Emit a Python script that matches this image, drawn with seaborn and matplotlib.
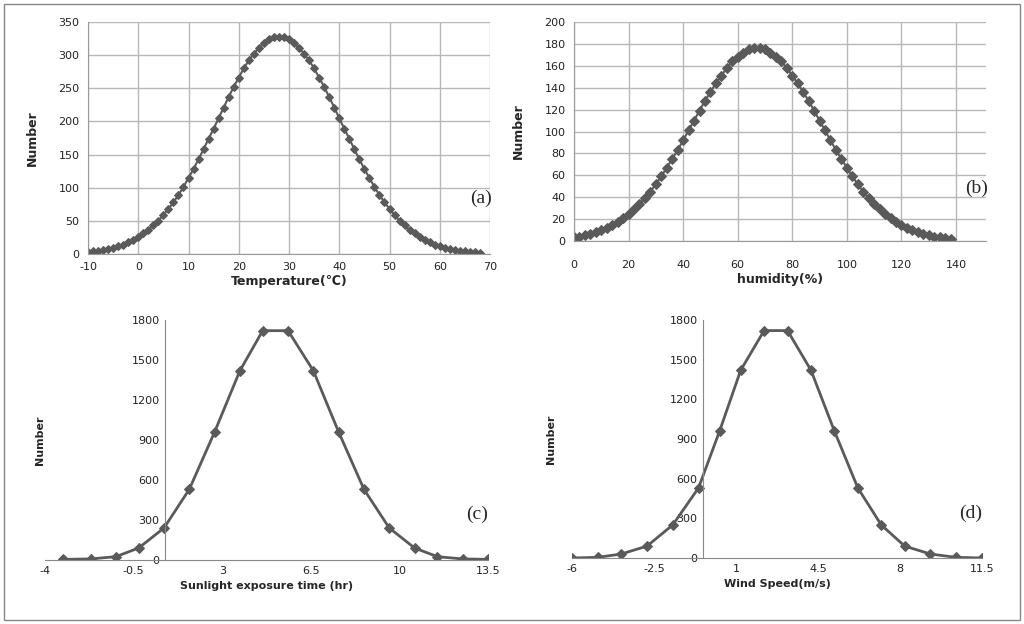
import matplotlib
matplotlib.use("Agg")
import matplotlib.pyplot as plt
import seaborn as sns
from matplotlib.patches import Rectangle

temp_x = list(range(-10, 69))
temp_y = [3,3.8,4.9,6.1,7.7,9.6,12,14,18,21,26,31,36,43,50,59,68,78,89,101,115,128,143,158,174,189,205,221,237,252,266,280,292,302,311,318,324,327,
          328,
          327,324,318,311,302,292,280,266,252,237,221,205,189,174,158,143,128,115,101,89,78,68,59,50,43,36,31,26,21,18,14,12,9.6,7.7,6.1,4.9,3.8,3.0,2.3,1.8]
hum_x = list(range(0, 139, 2))
hum_y = [3.2,4.1,5.2,6.4,7.9,9.7,11.9,14.4,17.3,20.6,24.5,29,34,39,45,52,59,67,75,83,92,101,110,119,128,136,144,151,158,164,168,172,175,176,
         176,175,172,168,164,158,151,144,136,128,119,110,101,92,83,75,67,59,52,45,39,34,29,24.5,20.6,17.3,14.4,11.9,9.7,7.9,6.4,5.2,4.1,3.2,2.5,1.9]
sun_x = [-3.3,-2.2,-1.2,-0.3,0.7,1.7,2.7,3.7,4.6,5.6,6.6,7.6,8.6,9.6,10.6,11.5,12.5,13.5]
sun_y = [5,8,25,90,240,530,960,1420,1720,1720,1420,960,530,240,90,25,8,5]
wind_x = [-6,-4.9,-3.9,-2.8,-1.7,-0.6,0.3,1.2,2.2,3.2,4.2,5.2,6.2,7.2,8.2,9.3,10.4,11.5]
wind_y = [0,5,30,90,250,530,960,1420,1720,1720,1420,960,530,250,90,30,5,0]

sns.set_style("white")
plt.rcParams["axes.unicode_minus"] = False
fig = plt.figure(figsize=(10.24, 6.24), dpi=100)
fig.patches.append(Rectangle((0.004, 0.006), 0.992, 0.988, transform=fig.transFigure,
                             fill=False, edgecolor="#888888", lw=1))
W, H = 1024, 624
def ax_at(l, t, r, b):
    return fig.add_axes([l/W, 1-b/H, (r-l)/W, (b-t)/H])

col = "#5a5a5a"
tick_kw = dict(labelsize=8, colors="#222222")

def top_panel(ax, x, y, xlim, xt, ylim, yt, xlabel, tag, ms):
    sns.lineplot(x=x, y=y, ax=ax, color=col, lw=1.5, marker="D", markersize=ms,
                 markeredgecolor=col, markerfacecolor=col)
    ax.set_xlim(*xlim); ax.set_ylim(*ylim)
    ax.set_xticks(xt); ax.set_yticks(yt)
    ax.grid(True, color="#b8b8b8", lw=1)
    for s in ax.spines.values():
        s.set_color("#999999")
    ax.spines["top"].set_visible(False); ax.spines["right"].set_visible(False)
    ax.tick_params(length=0, pad=6, **tick_kw)
    ax.set_xlabel(xlabel, fontsize=9, fontweight="bold", labelpad=2)
    ax.set_ylabel("Number", fontsize=9, fontweight="bold", labelpad=14)
    ax.text(1.005, 0.22, tag, transform=ax.transAxes, ha="right", fontsize=14, family="Liberation Serif")

def bot_panel(ax, x, y, xlim, xt, yt, xlabel, tag, yaxis_at, ylab_x):
    sns.lineplot(x=x, y=y, ax=ax, color=col, lw=2, marker="D", markersize=5,
                 markeredgecolor=col, markerfacecolor=col)
    ax.set_xlim(*xlim); ax.set_ylim(0, 1800)
    ax.set_xticks(xt); ax.set_xticklabels([str(v) for v in xt]); ax.set_yticks(yt)
    for k in ["top", "right"]:
        ax.spines[k].set_visible(False)
    ax.spines["bottom"].set_color("#888888")
    ax.spines["left"].set_color("#888888")
    ax.spines["left"].set_position(("data", yaxis_at))
    ax.tick_params(length=0, pad=4, **tick_kw)
    ax.set_xlabel(xlabel, fontsize=8, fontweight="bold", labelpad=4)
    ax.set_ylabel("Number", fontsize=8, fontweight="bold")
    ax.yaxis.set_label_coords(ylab_x, 0.5)
    ax.text(1.0, 0.17, tag, transform=ax.transAxes, ha="right", fontsize=14, family="Liberation Serif")

ax1 = ax_at(88, 22, 490, 254)
top_panel(ax1, temp_x, temp_y, (-10, 70), range(-10, 71, 10), (0, 350), range(0, 351, 50),
          "Temperature(\u2103)", "(a)", 4.5)
ax2 = ax_at(574, 22, 986, 241)
top_panel(ax2, hum_x, hum_y, (0, 151), range(0, 141, 20), (0, 200), range(0, 201, 20),
          "humidity(%)", "(b)", 5)
ax2.tick_params(axis="x", pad=14)

ax3 = ax_at(45, 320, 488, 560)
bot_panel(ax3, sun_x, sun_y, (-4, 13.5), [-4, -0.5, 3, 6.5, 10, 13.5], range(0, 1801, 300),
          "Sunlight exposure time (hr)", "(c)", 0.75, 0.0)

ax4 = ax_at(572, 320, 982, 558)
bot_panel(ax4, wind_x, wind_y, (-6, 11.5), [-6, -2.5, 1, 4.5, 8, 11.5], range(0, 1801, 300),
          "Wind Speed(m/s)", "(d)", -0.4, -0.04)

fig.savefig("out.png", dpi=100)
